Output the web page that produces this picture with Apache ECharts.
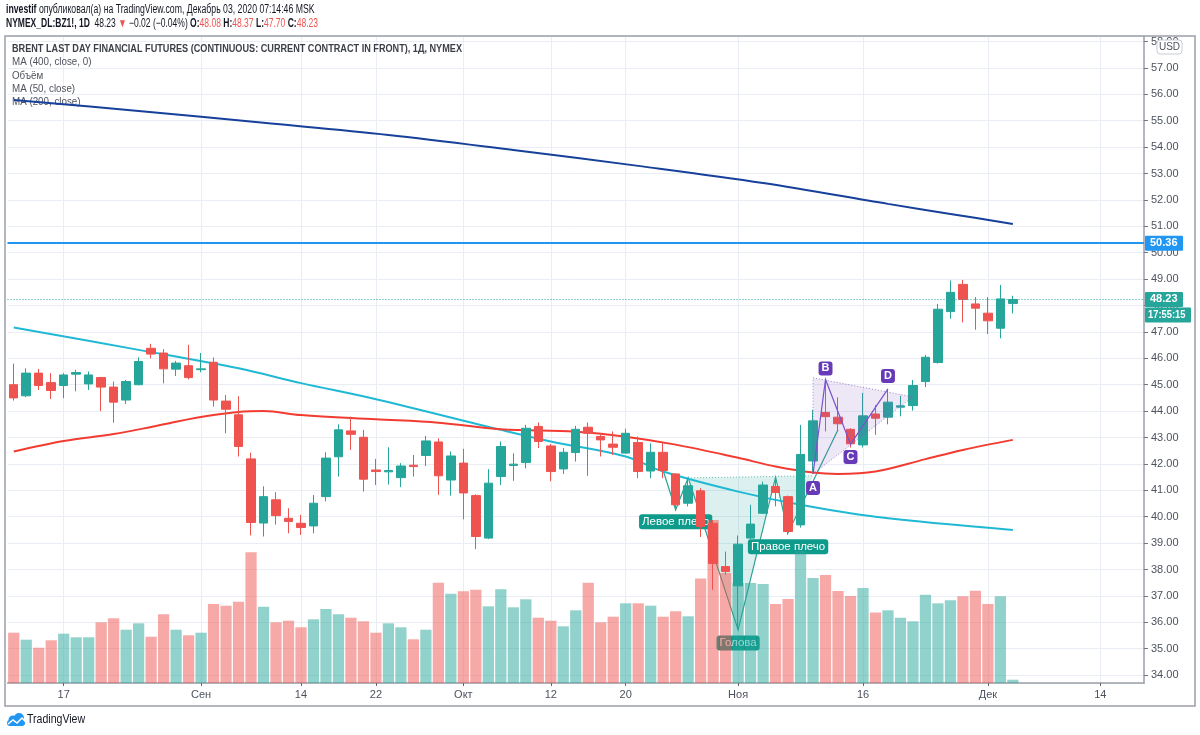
<!DOCTYPE html>
<html><head><meta charset="utf-8">
<script src="https://cdn.jsdelivr.net/npm/echarts/dist/echarts.min.js"></script>
<style>html,body{margin:0;padding:0;background:#fff}#c{width:1200px;height:735px}</style>
</head><body><div id="c"></div><script>
// ---------- data ----------
const dates = ['08-11','08-12','08-13','08-14','08-17','08-18','08-19','08-20','08-21','08-24','08-25','08-26','08-27','08-28','08-31',
'09-01','09-02','09-03','09-04','09-08','09-09','09-10','09-11','09-14','09-15','09-16','09-17','09-18','09-21','09-22','09-23','09-24','09-25','09-28','09-29','09-30',
'10-01','10-02','10-05','10-06','10-07','10-08','10-09','10-12','10-13','10-14','10-15','10-16','10-19','10-20','10-21','10-22','10-23','10-26','10-27','10-28','10-29','10-30',
'11-02','11-03','11-04','11-05','11-06','11-09','11-10','11-11','11-12','11-13','11-16','11-17','11-18','11-19','11-20','11-23','11-24','11-25','11-27','11-30',
'12-01','12-02','12-03','12-04','12-07','12-08','12-09','12-10','12-11','12-14','12-15','12-16','12-17'];
const opens  = [45.00,44.58,45.44,45.08,44.97,45.40,45.03,45.27,44.91,44.42,45.00,46.38,46.20,45.59,45.72,45.57,45.85,44.38,43.86,42.19,39.76,40.64,39.94,39.75,39.65,40.76,42.27,43.25,43.01,41.77,41.70,41.48,41.95,42.32,42.83,41.39,42.03,40.80,39.19,41.52,41.94,42.05,43.42,42.68,41.81,42.43,43.39,43.04,42.75,42.41,42.81,41.73,42.44,41.62,40.51,40.98,39.75,38.11,37.38,39.19,40.13,41.14,40.76,39.69,42.11,43.95,43.77,43.31,42.72,43.89,43.77,44.15,44.21,45.12,45.84,47.77,48.80,48.06,47.71,47.14,48.08];
const highs  = [45.80,45.62,45.60,45.44,45.44,45.56,45.50,45.30,45.12,45.18,46.04,46.55,46.35,45.90,46.51,46.20,46.03,44.61,44.56,42.43,41.15,40.93,40.32,40.07,40.82,42.44,43.50,43.79,43.29,42.19,42.63,42.03,42.34,43.06,42.97,42.47,42.57,40.85,41.80,42.85,42.40,43.48,43.57,42.75,42.60,43.44,43.57,43.16,43.23,43.33,43.04,42.78,42.81,41.65,41.46,41.08,39.87,38.68,39.29,40.45,41.33,41.52,40.80,43.48,44.05,45.20,44.52,43.35,44.69,44.23,44.84,44.58,45.18,46.13,48.06,48.95,48.97,48.32,48.32,48.78,48.37];
const lows   = [44.40,44.53,44.80,44.46,44.49,44.75,44.80,44.00,43.56,44.27,44.98,46.00,45.05,45.33,45.20,45.47,44.17,43.16,42.28,39.29,39.25,39.70,39.37,39.31,39.37,40.58,41.52,42.53,40.95,41.20,41.22,41.12,41.52,41.92,40.83,40.80,39.90,38.77,39.15,41.20,41.36,41.83,42.60,41.34,41.62,42.09,41.55,42.28,42.34,42.38,41.46,41.46,41.46,40.23,40.39,39.23,37.23,37.80,35.74,39.15,40.10,40.39,39.31,39.59,41.70,43.23,43.27,42.62,42.62,43.10,43.50,43.80,44.02,44.91,45.80,47.50,47.36,47.08,46.92,46.76,47.70];
const closes = [44.50,45.44,44.97,44.78,45.37,45.46,45.37,44.91,44.34,45.12,45.88,46.16,45.60,45.82,45.27,45.60,44.42,44.07,42.66,39.78,40.76,40.04,39.82,39.59,40.51,42.22,43.29,43.12,41.42,41.71,41.75,41.92,41.90,42.87,41.55,42.30,40.90,39.25,41.27,42.66,41.99,43.35,42.85,41.71,42.44,43.31,43.16,42.91,42.63,43.16,41.71,42.44,41.75,40.45,41.17,39.63,38.23,37.92,38.96,39.72,41.20,40.92,39.44,42.36,43.63,43.79,43.52,42.76,43.82,43.73,44.34,44.20,44.97,46.04,47.86,48.50,48.23,47.90,47.42,48.25,48.23];
// volume, relative units (estimated bar heights)
const volumes = [50.3,43.3,35.3,42.7,49.3,45.7,45.7,60.7,64.7,53.3,59.7,46.3,68.7,53.3,47.7,50.3,79,77.3,81.3,130.7,76.3,60.7,62.3,55.7,63.7,74,68.7,65.3,61.7,50.3,59.7,55.7,43.7,53.3,100.3,89.3,91.7,93.3,76.7,93.7,75.7,83.7,65.3,62.3,56.7,72.7,100.3,60.7,66.3,79.7,79.7,77.3,66.3,71.7,66.7,104.5,163,110,100,100,99,79,84,132,105,108,92,87,95,70.5,72.7,65.3,61.7,88.3,79.7,82.7,86.7,92.3,79,86.7,3.3];
// moving averages, read at [category index, price]
const ma400 = [[0,55.79],[10,55.37],[20,54.92],[30,54.46],[40,53.89],[50,53.29],[60,52.64],[70,51.85],[75,51.47],[80,51.09]];
const ma200 = [[0,47.17],[10,46.32],[18,45.62],[23,45.06],[29,44.45],[39,43.29],[43,42.85],[49,42.28],[52,41.71],[58,40.95],[63,40.45],[69,40.00],[80,39.50]];
const ma50  = [[0,42.47],[4,42.87],[8,43.13],[11,43.40],[13,43.60],[16,43.85],[18,43.97],[20,44.00],[23,43.85],[29,43.69],[34,43.56],[39,43.31],[45,43.22],[49,43.03],[53,42.73],[58,42.23],[61,41.90],[64,41.67],[66,41.62],[69,41.71],[73,42.18],[76,42.53],[80,42.91]];
const tickDates  = ['08-17','09-01','09-14','09-22','10-01','10-12','10-20','11-02','11-16','12-01','12-14'];
const tickLabels = ['17','Сен','14','22','Окт','12','20','Ноя','16','Дек','14'];
// drawings
const hsPoints = [[52,41.75],[53,40.26],[54,41.47],[58,35.71],[61,41.50],[62,39.39],[66,43.29]];
const hsNeck = [[54,41.47],[64,41.55]];
const hsLabels = ['Левое плечо','Голова','Правое плечо'];
const abcdPoints = [[64,41.62],[65,45.20],[67,42.75],[70,44.84]];
const abcdLabels = ['A','B','C','D'];
const triPoints = [[64,45.26],[71.6,44.54],[64,41.62]];
const levelPrice = 50.36;
const lastPrice = 48.23;

// ---------- chart ----------
const UP = '#26a69a', DN = '#ef5350';
const FONT = "'Liberation Sans','Noto Sans',sans-serif";
const GRIDC = '#e9eef4';
const FRAME = '#9a9ea8';
const chart = echarts.init(document.getElementById('c'), null, {renderer:'canvas'});
const tickSet = new Set(tickDates);
const tickMap = {}; tickDates.forEach((d,i)=>tickMap[d]=tickLabels[i]);

const option = {
  animation:false,
  backgroundColor:'#ffffff',
  grid:{left:7.5, right:56, top:36, bottom:52, containLabel:false},
  xAxis:{type:'category', data:dates, boundaryGap:true,
    axisLine:{show:true, lineStyle:{color:FRAME, width:1.5}},
    axisTick:{show:true, alignWithLabel:true, length:3, lineStyle:{color:'#666'},
      interval:(i,v)=>tickSet.has(v)},
    axisLabel:{interval:(i,v)=>tickSet.has(v), formatter:v=>tickMap[v]||'', color:'#4c525e',
      fontFamily:FONT, fontSize:11, margin:6},
    splitLine:{show:false}},
  yAxis:[
    {type:'value', position:'right', min:33.70, max:58.21, splitNumber:24, minInterval:1, maxInterval:1,
     axisLine:{show:true, lineStyle:{color:FRAME, width:1.5}},
     axisTick:{show:true, length:4, lineStyle:{color:'#777'}},
     axisLabel:{formatter:v=>v.toFixed(2), color:'#4c525e', fontFamily:FONT, fontSize:11, margin:7,
       showMinLabel:false, showMaxLabel:false},
     splitLine:{show:true, lineStyle:{color:GRIDC, width:1}}},
    {type:'value', min:0, max:647, show:false, splitLine:{show:false}}
  ],
  series:[
    {name:'grid-v', type:'line', data:[], z:0, silent:true,
     markLine:{z:0, silent:true, symbol:['none','none'], label:{show:false},
       lineStyle:{color:GRIDC, type:'solid', width:1}, animation:false,
       data:tickDates.map(d=>({xAxis:d}))}},
    {name:'H&S', type:'custom', z:1, silent:true, data:[[0,40]],
     renderItem:(params, api)=>{
       const P = hsPoints.map(p=>api.coord(p));
       const N = hsNeck.map(p=>api.coord(p));
       const lab = (txt, pt, dy)=>({type:'text', x:pt[0], y:pt[1]+dy,
         style:{text:txt, fill:'#ffffff', font:'11.5px '+FONT, align:'center', verticalAlign:'middle',
           backgroundColor:'#0f9b8b', padding:[2,3,1,3], borderRadius:3}});
       return {type:'group', children:[
         {type:'polygon', shape:{points:[P[2],P[3],P[4],P[5],N[1]]}, style:{fill:'rgba(38,166,154,0.16)'}},
         {type:'polyline', shape:{points:P}, style:{stroke:'#2aa394', lineWidth:1.2, fill:null}},
         {type:'line', shape:{x1:N[0][0],y1:N[0][1],x2:N[1][0],y2:N[1][1]}, style:{stroke:'#5cbdb3', lineWidth:1, lineDash:[1,2]}},
         lab(hsLabels[0], P[1], 12),
         lab(hsLabels[1], P[3], 13),
         lab(hsLabels[2], P[5], 14)
       ]};
     }},
    {name:'Объём', type:'bar', xAxisIndex:0, yAxisIndex:1, z:2, barWidth:'90%',
     data:volumes.map((v,i)=>({value:v, itemStyle:{color: closes[i]>=opens[i] ? 'rgba(38,166,154,0.5)' : 'rgba(239,83,80,0.5)'}}))},
    {name:'MA (200, close)', type:'line', data:ma200, z:3, symbol:'none', smooth:0.35,
     lineStyle:{color:'#1fb9d4', width:2}},
    {name:'MA (50, close)', type:'line', data:ma50, z:3, symbol:'none', smooth:0.35,
     lineStyle:{color:'#f23c32', width:2}},
    {name:'MA (400, close, 0)', type:'line', data:ma400, z:3, symbol:'none', smooth:0.35,
     lineStyle:{color:'#16409a', width:2}},
    {name:'BZ1!', type:'candlestick', z:4, barWidth:9,
     data:opens.map((o,i)=>[o, closes[i], lows[i], highs[i]]),
     itemStyle:{color:UP, color0:DN, borderColor:UP, borderColor0:DN, borderWidth:1},
     markLine:{silent:true, symbol:['none','none'], label:{show:false}, animation:false,
       data:[
         {yAxis:levelPrice, lineStyle:{color:'#2196f3', width:2, type:'solid'}},
         {yAxis:lastPrice, lineStyle:{color:'#26a69a', width:1, type:[1,2]}}
       ]}},
    {name:'ABCD', type:'custom', z:5, silent:true, data:[[0,40]],
     renderItem:(params, api)=>{
       const A = abcdPoints.map(p=>api.coord(p));
       const T = triPoints.map(p=>api.coord(p));
       const mk = (txt, pt, dy)=>({type:'text', x:pt[0], y:pt[1]+dy,
         style:{text:txt, fill:'#fff', font:'bold 11px '+FONT, align:'center', verticalAlign:'middle',
           backgroundColor:'#673ab7', padding:[2,3,1,3], borderRadius:3}});
       return {type:'group', children:[
         {type:'polygon', shape:{points:T}, style:{fill:'rgba(126,87,194,0.14)', stroke:'rgba(126,87,194,0.7)', lineWidth:1, lineDash:[1,2]}},
         {type:'polyline', shape:{points:A}, style:{stroke:'#7b52cc', lineWidth:1.2, fill:null}},
         mk(abcdLabels[0], A[0], 14),
         mk(abcdLabels[1], A[1], -11),
         mk(abcdLabels[2], A[2], 13),
         mk(abcdLabels[3], A[3], -13)
       ]};
     }}
  ]
};
chart.setOption(option);

const yLevel = chart.convertToPixel({yAxisIndex:0}, levelPrice);
const yLast = chart.convertToPixel({yAxisIndex:0}, lastPrice);
const legendStyle = {font:'11px '+FONT, fill:'#50535e', verticalAlign:'middle'};
const RICH = {b:{fontWeight:'bold', fontSize:12, fontFamily:FONT, fill:'#131722'}, r:{fontSize:12, fontFamily:FONT, fill:'#ef5350'}};
chart.setOption({graphic:[
  // outer frame
  {type:'rect', shape:{x:5, y:36, width:1190, height:670}, style:{fill:null, stroke:FRAME, lineWidth:1.5}, z:10, silent:true},
  // header
  {type:'text', x:6, y:10, scaleX:0.725, style:{text:'{b|investif} опубликовал(а) на TradingView.com, Декабрь 03, 2020 07:14:46 MSK',
    font:'12px '+FONT, fill:'#131722', verticalAlign:'middle', rich:RICH}},
  {type:'text', x:6, y:24, scaleX:0.71, style:{text:'{b|NYMEX_DL:BZ1!, 1D}  48.23 {r|▼} −0.02 (−0.04%) {b|O:}{r|48.08} {b|H:}{r|48.37} {b|L:}{r|47.70} {b|C:}{r|48.23}',
    font:'12px '+FONT, fill:'#131722', verticalAlign:'middle', rich:RICH}},
  // in-plot legend
  {type:'text', x:12, y:49, scaleX:0.83, style:{text:'BRENT LAST DAY FINANCIAL FUTURES (CONTINUOUS: CURRENT CONTRACT IN FRONT), 1Д, NYMEX', font:'bold 11px '+FONT, fill:'#3c3f48', verticalAlign:'middle'}},
  {type:'text', x:12, y:62, scaleX:0.89, style:Object.assign({text:'MA (400, close, 0)'}, legendStyle)},
  {type:'text', x:12, y:75.5, scaleX:0.89, style:Object.assign({text:'Объём'}, legendStyle)},
  {type:'text', x:12, y:88.5, scaleX:0.89, style:Object.assign({text:'MA (50, close)'}, legendStyle)},
  {type:'text', x:12, y:102, scaleX:0.89, style:Object.assign({text:'MA (200, close)'}, legendStyle)},
  // USD badge
  {type:'rect', shape:{x:1157, y:40, width:25, height:14, r:3}, style:{fill:'#fff', stroke:'#c9ccd3', lineWidth:1}, z:20},
  {type:'text', x:1169.5, y:47, style:{text:'USD', font:'10px '+FONT, fill:'#50535e', align:'center', verticalAlign:'middle'}, z:21},
  // price badges
  {type:'rect', shape:{x:1145, y:yLevel-7.5, width:38, height:15, r:1}, style:{fill:'#2196f3'}, z:20},
  {type:'text', x:1150, y:yLevel, style:{text:levelPrice.toFixed(2), font:'bold 11px '+FONT, fill:'#fff', verticalAlign:'middle'}, z:21},
  {type:'rect', shape:{x:1145, y:yLast-7.5, width:38, height:15, r:1}, style:{fill:'#26a69a'}, z:20},
  {type:'text', x:1150, y:yLast, style:{text:lastPrice.toFixed(2), font:'bold 11px '+FONT, fill:'#fff', verticalAlign:'middle'}, z:21},
  {type:'rect', shape:{x:1145, y:yLast+8, width:46, height:15, r:1}, style:{fill:'#26a69a'}, z:20},
  {type:'text', x:1148, y:yLast+15.5, scaleX:0.85, style:{text:'17:55:15', font:'bold 11px '+FONT, fill:'#fff', verticalAlign:'middle'}, z:21},
  // TradingView logo
  {type:'group', x:5, y:713, children:[
    {type:'circle', shape:{cx:8, cy:7, r:4.5}, style:{fill:'#2196f3'}},
    {type:'circle', shape:{cx:14, cy:5, r:5}, style:{fill:'#2196f3'}},
    {type:'rect', shape:{x:2, y:7, width:18, height:6, r:3}, style:{fill:'#2196f3'}},
    {type:'polyline', shape:{points:[[3,11],[8,7],[12,10],[17,5],[21,9]]}, style:{stroke:'#fff', lineWidth:1.5, fill:null}}
  ]},
  {type:'text', x:27, y:720, scaleX:0.88, style:{text:'TradingView', font:'12px '+FONT, fill:'#131722', verticalAlign:'middle'}}
]});
</script></body></html>
